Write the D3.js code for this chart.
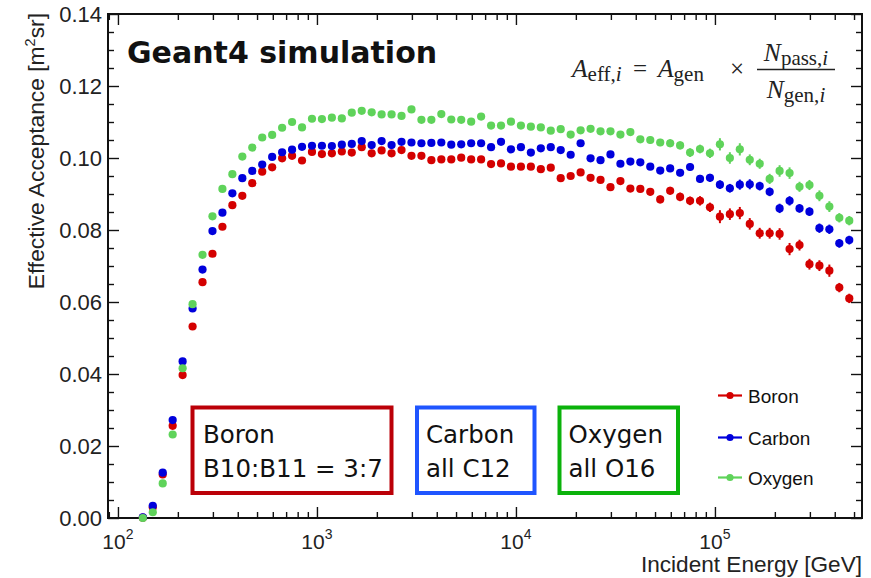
<!DOCTYPE html>
<html>
<head>
<meta charset="utf-8">
<script src="https://cdn.jsdelivr.net/npm/d3@7"></script>
<style>
  body { margin: 0; background: #fff; }
  svg { display: block; }
</style>
</head>
<body>
<svg id="chart" width="871" height="578"></svg>
<script>
// Energy bin centres, log10(E / GeV): 20 bins per decade
const binLog10 = [
  2.125, 2.175, 2.225, 2.275, 2.325, 2.375, 2.425, 2.475, 2.525, 2.575,
  2.625, 2.675, 2.725, 2.775, 2.825, 2.875, 2.925, 2.975, 3.025, 3.075,
  3.125, 3.175, 3.225, 3.275, 3.325, 3.375, 3.425, 3.475, 3.525, 3.575,
  3.625, 3.675, 3.725, 3.775, 3.825, 3.875, 3.925, 3.975, 4.025, 4.075,
  4.125, 4.175, 4.225, 4.275, 4.325, 4.375, 4.425, 4.475, 4.525, 4.575,
  4.625, 4.675, 4.725, 4.775, 4.825, 4.875, 4.925, 4.975, 5.025, 5.075,
  5.125, 5.175, 5.225, 5.275, 5.325, 5.375, 5.425, 5.475, 5.525, 5.575,
  5.625, 5.675
];

// Effective acceptance [m^2 sr] per bin
const boronAcc = [
  0.0001, 0.0030, 0.0121, 0.0256, 0.0397, 0.0532, 0.0655, 0.0734, 0.0809, 0.0869,
  0.0895, 0.0930, 0.0962, 0.0974, 0.0999, 0.1006, 0.0993, 0.1017, 0.1011, 0.1013,
  0.1018, 0.1015, 0.1030, 0.1013, 0.1021, 0.1013, 0.1022, 0.1006, 0.1006, 0.0994,
  0.0996, 0.0996, 0.1001, 0.0996, 0.0996, 0.0983, 0.0985, 0.0976, 0.0976, 0.0976,
  0.0969, 0.0973, 0.0944, 0.0950, 0.0960, 0.0945, 0.0939, 0.0919, 0.0936, 0.0915,
  0.0914, 0.0906, 0.0885, 0.0909, 0.0892, 0.0881, 0.0881, 0.0863, 0.0837, 0.0844,
  0.0847, 0.0817, 0.0791, 0.0791, 0.0789, 0.0747, 0.0758, 0.0705, 0.0701, 0.0687,
  0.0640, 0.0610
];
const carbonAcc = [
  0.0002, 0.0034, 0.0126, 0.0272, 0.0435, 0.0582, 0.0690, 0.0797, 0.0848, 0.0902,
  0.0944, 0.0964, 0.0982, 0.1003, 0.1016, 0.1023, 0.1031, 0.1034, 0.1034, 0.1033,
  0.1037, 0.1039, 0.1047, 0.1036, 0.1047, 0.1036, 0.1045, 0.1043, 0.1041, 0.1042,
  0.1043, 0.1037, 0.1038, 0.1041, 0.1041, 0.1030, 0.1045, 0.1024, 0.1030, 0.1015,
  0.1027, 0.1030, 0.1022, 0.1009, 0.1041, 0.0999, 0.0994, 0.1010, 0.0984, 0.0990,
  0.0988, 0.0976, 0.0965, 0.0971, 0.0959, 0.0975, 0.0942, 0.0945, 0.0926, 0.0916,
  0.0926, 0.0927, 0.0922, 0.0906, 0.0860, 0.0881, 0.0860, 0.0851, 0.0805, 0.0802,
  0.0763, 0.0772
];
const oxygenAcc = [
  0.0000, 0.0016, 0.0096, 0.0232, 0.0416, 0.0594, 0.0731, 0.0838, 0.0914, 0.0955,
  0.1004, 0.1029, 0.1057, 0.1064, 0.1084, 0.1100, 0.1085, 0.1109, 0.1108, 0.1112,
  0.1110, 0.1126, 0.1131, 0.1127, 0.1121, 0.1121, 0.1117, 0.1135, 0.1106, 0.1106,
  0.1122, 0.1107, 0.1106, 0.1101, 0.1115, 0.1090, 0.1090, 0.1101, 0.1090, 0.1087,
  0.1085, 0.1076, 0.1080, 0.1065, 0.1077, 0.1081, 0.1074, 0.1074, 0.1065, 0.1072,
  0.1052, 0.1050, 0.1043, 0.1041, 0.1035, 0.1015, 0.1025, 0.1013, 0.1038, 0.1000,
  0.1024, 0.0995, 0.0984, 0.0942, 0.0964, 0.0958, 0.0920, 0.0925, 0.0895, 0.0865,
  0.0834, 0.0826
];

// Statistical uncertainty per bin
const boronErr = [
  0.0004, 0.0004, 0.0004, 0.0004, 0.0004, 0.0004, 0.0004, 0.0004, 0.0004, 0.0004,
  0.0004, 0.0004, 0.0004, 0.0004, 0.0004, 0.0004, 0.0004, 0.0004, 0.0004, 0.0004,
  0.0004, 0.0004, 0.0004, 0.0004, 0.0004, 0.0004, 0.0004, 0.0004, 0.0004, 0.0004,
  0.0005, 0.0005, 0.0005, 0.0005, 0.0005, 0.0005, 0.0005, 0.0005, 0.0005, 0.0005,
  0.0006, 0.0006, 0.0007, 0.0007, 0.0007, 0.0007, 0.0008, 0.0008, 0.0008, 0.0009,
  0.0009, 0.0010, 0.0011, 0.0011, 0.0012, 0.0012, 0.0013, 0.0013, 0.0018, 0.0016,
  0.0017, 0.0016, 0.0015, 0.0015, 0.0016, 0.0017, 0.0015, 0.0015, 0.0015, 0.0017,
  0.0013, 0.0013
];
const carbonErr = [
  0.0004, 0.0004, 0.0004, 0.0004, 0.0004, 0.0004, 0.0004, 0.0004, 0.0004, 0.0004,
  0.0004, 0.0004, 0.0004, 0.0004, 0.0004, 0.0004, 0.0004, 0.0004, 0.0004, 0.0004,
  0.0004, 0.0004, 0.0004, 0.0004, 0.0004, 0.0004, 0.0004, 0.0004, 0.0004, 0.0004,
  0.0005, 0.0005, 0.0005, 0.0005, 0.0005, 0.0005, 0.0005, 0.0005, 0.0005, 0.0005,
  0.0006, 0.0006, 0.0006, 0.0006, 0.0007, 0.0007, 0.0007, 0.0007, 0.0008, 0.0008,
  0.0008, 0.0009, 0.0009, 0.0010, 0.0010, 0.0010, 0.0011, 0.0011, 0.0012, 0.0012,
  0.0014, 0.0014, 0.0012, 0.0012, 0.0013, 0.0013, 0.0012, 0.0012, 0.0013, 0.0013,
  0.0012, 0.0012
];
const oxygenErr = [
  0.0004, 0.0004, 0.0004, 0.0004, 0.0004, 0.0004, 0.0004, 0.0004, 0.0004, 0.0004,
  0.0004, 0.0004, 0.0004, 0.0004, 0.0004, 0.0004, 0.0004, 0.0004, 0.0004, 0.0004,
  0.0004, 0.0004, 0.0004, 0.0004, 0.0004, 0.0004, 0.0004, 0.0004, 0.0004, 0.0004,
  0.0005, 0.0005, 0.0005, 0.0005, 0.0005, 0.0005, 0.0005, 0.0005, 0.0005, 0.0005,
  0.0006, 0.0006, 0.0006, 0.0007, 0.0007, 0.0007, 0.0008, 0.0008, 0.0008, 0.0009,
  0.0009, 0.0010, 0.0010, 0.0011, 0.0011, 0.0012, 0.0012, 0.0013, 0.0017, 0.0016,
  0.0017, 0.0015, 0.0014, 0.0014, 0.0016, 0.0016, 0.0014, 0.0014, 0.0015, 0.0015,
  0.0013, 0.0013
];

const seriesNames = ["Boron", "Carbon", "Oxygen"];
const seriesColors = ["#d40000", "#0000dc", "#5fd35a"];

// Axis ticks and labels
const xMajorExp = [2, 3, 4, 5];
const xMinorMult = [2, 3, 4, 5, 6, 7, 8, 9];
const yMajorTicks = [0.00, 0.02, 0.04, 0.06, 0.08, 0.10, 0.12, 0.14];
const yMinorStep = 0.005;

// Annotation boxes: heading, detail line, colour
const boxLines1 = ["Boron", "Carbon", "Oxygen"];
const boxLines2 = ["B10:B11 = 3:7", "all C12", "all O16"];
const boxColors = ["#bb0008", "#1f55ff", "#0bb20b"];

const titleText = "Geant4 simulation";
const xTitle = "Incident Energy [GeV]";

// ---------------------------------------------------------------
const svg = d3.select("#chart");
const frame = { left: 108, right: 862, top: 14, bottom: 518 };

const x = d3.scaleLog()
  .domain([Math.pow(10, 1.95), Math.pow(10, 5.739)])
  .range([frame.left, frame.right]);
const y = d3.scaleLinear()
  .domain([0, 0.14])
  .range([frame.bottom, frame.top]);

const axisFont = "'Liberation Sans', Arial, Helvetica, sans-serif";

// tick values
const xMajor = xMajorExp.map(e => Math.pow(10, e));
const xMinor = [];
[1, 2, 3, 4, 5].forEach(e => xMinorMult.forEach(m => {
  const v = m * Math.pow(10, e);
  if (v > x.domain()[0] && v < x.domain()[1]) xMinor.push(v);
}));
const yMinor = d3.range(0, 0.14 + 1e-9, yMinorStep).filter(v => !yMajorTicks.some(t => Math.abs(t - v) < 1e-9));

function styleAxis(g) {
  g.select(".domain").remove();
  g.selectAll("line").attr("stroke", "#111").attr("stroke-width", 1.4);
  g.selectAll("text").remove();
}

// bottom & top ticks (pointing inside)
svg.append("g").attr("transform", `translate(0,${frame.bottom})`)
  .call(d3.axisBottom(x).tickValues(xMajor).tickSize(-11).tickFormat("")).call(styleAxis);
svg.append("g").attr("transform", `translate(0,${frame.bottom})`)
  .call(d3.axisBottom(x).tickValues(xMinor).tickSize(-6).tickFormat("")).call(styleAxis);
svg.append("g").attr("transform", `translate(0,${frame.top})`)
  .call(d3.axisTop(x).tickValues(xMajor).tickSize(-11).tickFormat("")).call(styleAxis);
svg.append("g").attr("transform", `translate(0,${frame.top})`)
  .call(d3.axisTop(x).tickValues(xMinor).tickSize(-6).tickFormat("")).call(styleAxis);

// left & right ticks
svg.append("g").attr("transform", `translate(${frame.left},0)`)
  .call(d3.axisLeft(y).tickValues(yMajorTicks).tickSize(-11).tickFormat("")).call(styleAxis);
svg.append("g").attr("transform", `translate(${frame.left},0)`)
  .call(d3.axisLeft(y).tickValues(yMinor).tickSize(-6).tickFormat("")).call(styleAxis);
svg.append("g").attr("transform", `translate(${frame.right},0)`)
  .call(d3.axisRight(y).tickValues(yMajorTicks).tickSize(-11).tickFormat("")).call(styleAxis);
svg.append("g").attr("transform", `translate(${frame.right},0)`)
  .call(d3.axisRight(y).tickValues(yMinor).tickSize(-6).tickFormat("")).call(styleAxis);

// frame
svg.append("rect")
  .attr("x", frame.left).attr("y", frame.top)
  .attr("width", frame.right - frame.left).attr("height", frame.bottom - frame.top)
  .attr("fill", "none").attr("stroke", "#111").attr("stroke-width", 2);

// y tick labels
svg.append("g").selectAll("text").data(yMajorTicks).join("text")
  .attr("x", frame.left - 6)
  .attr("y", d => y(d) + 8)
  .attr("text-anchor", "end")
  .attr("font-family", axisFont).attr("font-size", 22).attr("fill", "#222")
  .text(d => d3.format(".2f")(d));

// x tick labels 10^n
const xl = svg.append("g").selectAll("text").data(xMajorExp).join("text")
  .attr("x", d => x(Math.pow(10, d)))
  .attr("y", frame.bottom + 31)
  .attr("text-anchor", "middle")
  .attr("font-family", axisFont).attr("fill", "#222");
xl.append("tspan").attr("font-size", 21).text("10");
xl.append("tspan").attr("font-size", 14).attr("dy", -10).text(d => d);

// axis titles
svg.append("text")
  .attr("x", frame.right).attr("y", 572)
  .attr("text-anchor", "end")
  .attr("font-family", axisFont).attr("font-size", 22.6).attr("fill", "#222")
  .text(xTitle);

const yt = svg.append("text")
  .attr("transform", `translate(44,${frame.top - 1}) rotate(-90)`)
  .attr("text-anchor", "end")
  .attr("font-family", axisFont).attr("font-size", 22.8).attr("fill", "#222");
yt.append("tspan").text("Effective Acceptance [m");
yt.append("tspan").attr("font-size", 14.5).attr("dy", -9).text("2");
yt.append("tspan").attr("dy", 9).text("sr]");

// data points with vertical error bars
const accSeries = [boronAcc, carbonAcc, oxygenAcc];
const errSeries = [boronErr, carbonErr, oxygenErr];
accSeries.forEach((vals, s) => {
  const pts = vals.map((v, i) => ({ e: Math.pow(10, binLog10[i]), v, err: errSeries[s][i] }));
  const g = svg.append("g").attr("class", "series-" + seriesNames[s]);
  g.selectAll("line").data(pts).join("line")
    .attr("x1", d => x(d.e)).attr("x2", d => x(d.e))
    .attr("y1", d => y(d.v - d.err)).attr("y2", d => y(d.v + d.err))
    .attr("stroke", seriesColors[s]).attr("stroke-width", 2);
  g.selectAll("circle").data(pts).join("circle")
    .attr("cx", d => x(d.e)).attr("cy", d => y(d.v))
    .attr("r", 4.1)
    .attr("fill", seriesColors[s]);
});

// legend
const legendRows = [395.5, 437.5, 477.5];
seriesNames.forEach((name, s) => {
  const ly = legendRows[s];
  svg.append("line").attr("x1", 718).attr("x2", 742).attr("y1", ly).attr("y2", ly)
    .attr("stroke", seriesColors[s]).attr("stroke-width", 2.2);
  svg.append("circle").attr("cx", 730).attr("cy", ly).attr("r", 3.6).attr("fill", seriesColors[s]);
  svg.append("text").attr("x", 748).attr("y", ly + 7)
    .attr("font-family", axisFont).attr("font-size", 19).attr("fill", "#111")
    .text(name);
});

// annotation boxes
const boxX = [[192.5, 391.5], [417, 534.5], [559.5, 678]];
const boxTextX = [203, 426, 568.5];
boxLines1.forEach((t, k) => {
  svg.append("rect")
    .attr("x", boxX[k][0]).attr("y", 407.5)
    .attr("width", boxX[k][1] - boxX[k][0]).attr("height", 85.5)
    .attr("fill", "#fff").attr("stroke", boxColors[k]).attr("stroke-width", 4);
  const tx = svg.append("text").attr("font-family", "'DejaVu Sans', Verdana, sans-serif")
    .attr("font-size", 24.5).attr("fill", "#111");
  tx.append("tspan").attr("x", boxTextX[k]).attr("y", 443.3).text(t);
  tx.append("tspan").attr("x", boxTextX[k]).attr("y", 476.7).text(boxLines2[k]);
});

// title
svg.append("text")
  .attr("x", 127).attr("y", 63)
  .attr("font-family", "'DejaVu Sans', Verdana, sans-serif")
  .attr("font-weight", "bold").attr("font-size", 30).attr("fill", "#111")
  .text(titleText);

// acceptance formula
const serif = "'Liberation Serif', 'Times New Roman', serif";
const fg = svg.append("g").attr("font-family", serif).attr("fill", "#222");
function mathText(xPos, yPos, parts, anchor) {
  const t = fg.append("text").attr("x", xPos).attr("y", yPos).attr("text-anchor", anchor || "start");
  parts.forEach(p => {
    const sp = t.append("tspan").attr("font-size", p.size).text(p.txt);
    if (p.it) sp.attr("font-style", "italic");
    if (p.dy) sp.attr("dy", p.dy);
  });
  return t;
}
mathText(572, 77, [
  { txt: "A", size: 25.5, it: true },
  { txt: "eff,", size: 21, dy: 4 },
  { txt: "i", size: 21, it: true }
]);
mathText(640, 77, [{ txt: "=", size: 25 }], "middle");
mathText(658, 77, [
  { txt: "A", size: 25.5, it: true },
  { txt: "gen", size: 21, dy: 4 }
]);
mathText(737, 77, [{ txt: "×", size: 25 }], "middle");
mathText(796, 61, [
  { txt: "N", size: 25.5, it: true },
  { txt: "pass,", size: 21, dy: 4 },
  { txt: "i", size: 21, it: true }
], "middle");
mathText(796, 98, [
  { txt: "N", size: 25.5, it: true },
  { txt: "gen,", size: 21, dy: 4 },
  { txt: "i", size: 21, it: true }
], "middle");
fg.append("line").attr("x1", 757).attr("x2", 835).attr("y1", 69.5).attr("y2", 69.5)
  .attr("stroke", "#222").attr("stroke-width", 1.3);
</script>
</body>
</html>
